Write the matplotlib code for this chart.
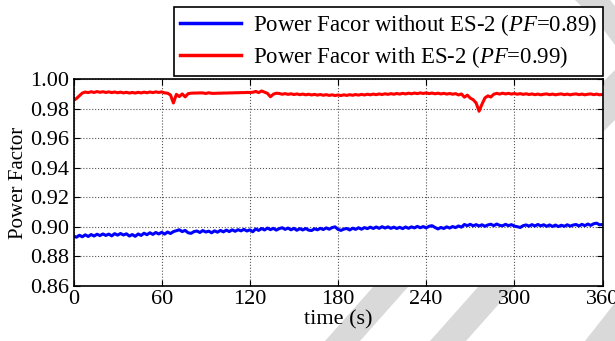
import matplotlib
matplotlib.use("Agg")
import matplotlib.pyplot as plt
from matplotlib.patches import Polygon

plt.rcParams['font.family'] = ['Liberation Serif', 'DejaVu Serif']
plt.rcParams['mathtext.fontset'] = 'custom'
plt.rcParams['mathtext.rm'] = 'Liberation Serif'
plt.rcParams['mathtext.it'] = 'Liberation Serif:italic'

# time axis, one sample every 2 s
time_s = list(range(0, 361, 2))

# power factor without ES-2
pf_without = [
    0.8938, 0.8930, 0.8943, 0.8933, 0.8946, 0.8935, 0.8948, 0.8938, 0.8950, 0.8941,
    0.8952, 0.8942, 0.8951, 0.8939, 0.8954, 0.8944, 0.8955, 0.8945, 0.8953, 0.8938,
    0.8948, 0.8936, 0.8952, 0.8942, 0.8957, 0.8947, 0.8960, 0.8949, 0.8962, 0.8952,
    0.8963, 0.8951, 0.8965, 0.8955, 0.8968, 0.8974, 0.8980, 0.8968, 0.8976, 0.8960,
    0.8956, 0.8968, 0.8972, 0.8962, 0.8975, 0.8965, 0.8971, 0.8960, 0.8973, 0.8964,
    0.8976, 0.8966, 0.8978, 0.8968, 0.8980, 0.8970, 0.8981, 0.8973, 0.8983, 0.8972,
    0.8980, 0.8967, 0.8986, 0.8976, 0.8989, 0.8979, 0.8992, 0.8981, 0.8990, 0.8978,
    0.8988, 0.8994, 0.8983, 0.8992, 0.8980, 0.8990, 0.8977, 0.8988, 0.8979, 0.8989,
    0.8978, 0.8975, 0.8987, 0.8980, 0.8990, 0.8982, 0.8993, 0.8984, 0.8995, 0.9000,
    0.8983, 0.8976, 0.8985, 0.8989, 0.8979, 0.8991, 0.8983, 0.8994, 0.8984, 0.8995,
    0.8988, 0.8998, 0.8989, 0.8999, 0.8990, 0.9001, 0.8992, 0.9000, 0.8990, 0.8998,
    0.8989, 0.8997, 0.8988, 0.8999, 0.8990, 0.9000, 0.8993, 0.9003, 0.8994, 0.9002,
    0.8993, 0.9004, 0.9008, 0.8996, 0.8986, 0.8996, 0.8989, 0.9000, 0.8992, 0.9002,
    0.8995, 0.9006, 0.8998, 0.9016, 0.9008, 0.9017, 0.9007, 0.9015, 0.9006, 0.9014,
    0.9004, 0.9013, 0.9018, 0.9008, 0.9019, 0.9010, 0.9007, 0.9017, 0.9008, 0.9015,
    0.9005, 0.9001, 0.8996, 0.9008, 0.9013, 0.9005, 0.9015, 0.9006, 0.9016, 0.9007,
    0.9014, 0.9004, 0.9013, 0.9003, 0.9012, 0.9002, 0.9011, 0.9004, 0.9014, 0.9005,
    0.9012, 0.9016, 0.9006, 0.9017, 0.9008, 0.9019, 0.9010, 0.9021, 0.9025, 0.9014,
    0.9016,
]

# power factor with ES-2
pf_with = [
    0.9855, 0.9868, 0.9886, 0.9905, 0.9912, 0.9908, 0.9914, 0.9909, 0.9915, 0.9910,
    0.9914, 0.9909, 0.9913, 0.9908, 0.9912, 0.9907, 0.9911, 0.9906, 0.9910, 0.9905,
    0.9909, 0.9905, 0.9910, 0.9906, 0.9911, 0.9907, 0.9912, 0.9908, 0.9913, 0.9909,
    0.9913, 0.9906, 0.9904, 0.9892, 0.9838, 0.9896, 0.9881, 0.9899, 0.9879, 0.9901,
    0.9904, 0.9905, 0.9905, 0.9906, 0.9906, 0.9902, 0.9907, 0.9903, 0.9903, 0.9904,
    0.9904, 0.9905, 0.9905, 0.9906, 0.9906, 0.9907, 0.9907, 0.9908, 0.9908, 0.9909,
    0.9909, 0.9910, 0.9916, 0.9908, 0.9919, 0.9911, 0.9903, 0.9880, 0.9897, 0.9904,
    0.9902, 0.9897, 0.9901, 0.9896, 0.9900, 0.9895, 0.9899, 0.9894, 0.9898, 0.9893,
    0.9897, 0.9892, 0.9896, 0.9891, 0.9895, 0.9890, 0.9894, 0.9889, 0.9893, 0.9888,
    0.9892, 0.9888, 0.9893, 0.9889, 0.9894, 0.9890, 0.9895, 0.9891, 0.9896, 0.9892,
    0.9897, 0.9893, 0.9898, 0.9894, 0.9899, 0.9895, 0.9900, 0.9896, 0.9901, 0.9897,
    0.9902, 0.9898, 0.9903, 0.9899, 0.9904, 0.9900, 0.9905, 0.9901, 0.9906, 0.9902,
    0.9906, 0.9901, 0.9905, 0.9900, 0.9904, 0.9899, 0.9903, 0.9898, 0.9902, 0.9897,
    0.9901, 0.9892, 0.9899, 0.9877, 0.9891, 0.9871, 0.9860, 0.9838, 0.9782, 0.9830,
    0.9872, 0.9886, 0.9878, 0.9897, 0.9903, 0.9898, 0.9904, 0.9899, 0.9903, 0.9898,
    0.9902, 0.9897, 0.9901, 0.9896, 0.9900, 0.9895, 0.9899, 0.9894, 0.9898, 0.9893,
    0.9897, 0.9899, 0.9894, 0.9898, 0.9893, 0.9897, 0.9899, 0.9894, 0.9898, 0.9893,
    0.9897, 0.9899, 0.9894, 0.9898, 0.9893, 0.9897, 0.9899, 0.9894, 0.9898, 0.9893,
    0.9896,
]

labels = ['Power Facor without ES-2 ($\\mathit{PF}$=0.89)',
          'Power Facor with ES-2 ($\\mathit{PF}$=0.99)']
x_ticks = [0, 60, 120, 180, 240, 300, 360]
y_ticks = [0.86, 0.88, 0.90, 0.92, 0.94, 0.96, 0.98, 1.00]

W, H = 615, 341
fig = plt.figure(figsize=(W / 100, H / 100), dpi=100)

# grey watermark bands behind everything (pixel coords from top-left)
wm = '#d9d9d9'
bands = [
    [(325, 341), (360, 341), (408, 287), (373, 287)],
    [(430, 341), (466, 341), (514, 287), (478, 287)],
    [(585, 341), (625, 341), (625, 290)],
    [(575, 0), (610, 0), (630, 25), (615, 45), (600, 25)],
    [(615, 70), (615, 120), (595, 140), (595, 90)],
]
for b in bands:
    pts = [(x, H - y) for x, y in b]
    fig.add_artist(Polygon(pts, closed=True, transform=None, facecolor=wm,
                           edgecolor='none', zorder=-10))

ax = fig.add_axes([73.5 / W, 1 - 286 / H, 529 / W, 207 / H])
ax.plot(time_s, pf_without, color='#0000ff', lw=2.2, label=labels[0])
ax.plot(time_s, pf_with, color='#ff0000', lw=2.2, label=labels[1])

ax.set_xlim(0, 360)
ax.set_ylim(0.86, 1.00)
ax.set_xticks(x_ticks)
ax.set_yticks(y_ticks)
ax.set_yticklabels(['%.2f' % v for v in y_ticks])
ax.tick_params(direction='in', top=True, right=True, labelsize=16, length=4,
               width=0.8, pad=3)
ax.grid(True, linestyle=':', color='#555555', linewidth=0.8)
for s in ax.spines.values():
    s.set_linewidth(1.2)

ax.set_xlabel('time (s)', fontsize=16, labelpad=1)
ax.set_ylabel('Power Factor', fontsize=15, labelpad=2)

leg = fig.legend(loc='upper right', bbox_to_anchor=(602.7 / W, 1 - 6.7 / H),
                 fontsize=16.4, fancybox=False, framealpha=1, edgecolor='black',
                 handlelength=2.7, handletextpad=0.5, labelspacing=0.25,
                 borderpad=0.25, borderaxespad=0)
leg.get_frame().set_linewidth(1.2)
for h in leg.get_lines():
    h.set_linewidth(2.5)

fig.savefig('out.png', dpi=100)
